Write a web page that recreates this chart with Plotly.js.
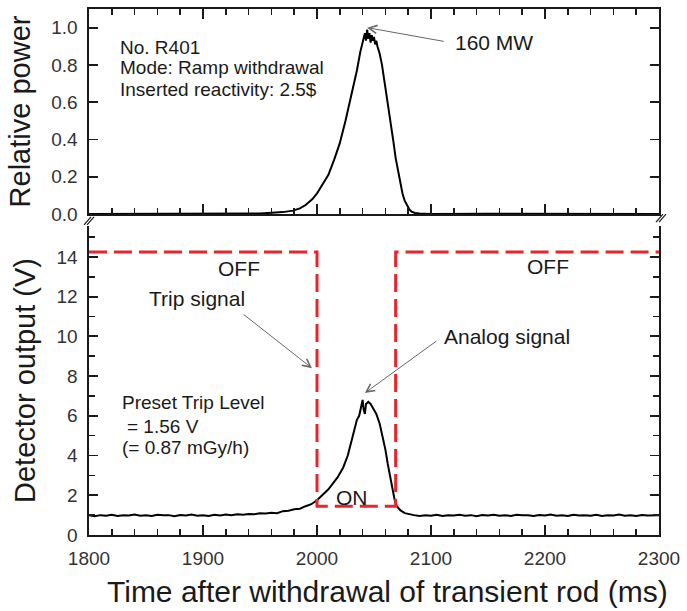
<!DOCTYPE html>
<html>
<head>
<meta charset="utf-8">
<script src="https://cdn.plot.ly/plotly-3.0.1.min.js"></script>
<style>html,body{margin:0;padding:0;background:#fff;}#chart{width:687px;height:611px;}</style>
</head>
<body>
<div id="chart"></div>
<script>
// ---- Data ----
const powerTime = [1800,1850,1900,1930,1950,1960,1970,1979,1985,1990,1996,2000,2005,2010,2015,2020,2025,2030,2033,2035,2038,2040,2041,2042,2043,2044,2045,2046,2047,2048,2049,2050,2051,2052,2053,2055,2057,2059,2061,2063,2065,2067,2069,2071,2073,2075,2077,2079,2081,2083,2086,2090,2100,2150,2200,2250,2300];
const relPower  = [0,0,0,0.001,0.003,0.006,0.01,0.018,0.03,0.048,0.08,0.11,0.16,0.21,0.29,0.38,0.5,0.63,0.71,0.77,0.87,0.92,0.95,0.97,0.93,0.99,0.94,0.97,0.92,0.96,0.93,0.95,0.91,0.93,0.9,0.86,0.8,0.72,0.65,0.56,0.47,0.39,0.3,0.23,0.17,0.11,0.07,0.045,0.025,0.012,0.005,0.002,0,0.001,0,0,0];

const analogTime = [1800,1805,1810,1815,1820,1825,1830,1835,1840,1845,1850,1855,1860,1865,1870,1875,1880,1885,1890,1895,1900,1905,1910,1915,1920,1925,1930,1935,1940,1945,1950,1955,1960,1965,1970,1975,1980,1985,1990,1995,2000,2005,2010,2014,2018,2023,2027,2031,2033,2035,2037,2039,2040,2041,2042,2043,2045,2047,2049,2052,2055,2058,2060,2062,2064,2066,2068,2070,2073,2077,2080,2085,2090,2095,2100,2105,2110,2115,2120,2125,2130,2135,2140,2145,2150,2155,2160,2165,2170,2175,2180,2185,2190,2195,2200,2205,2210,2215,2220,2225,2230,2235,2240,2245,2250,2255,2260,2265,2270,2275,2280,2285,2290,2295,2300];
const analogV   = [1.0,0.95,1.0,0.97,1.02,0.96,1.0,0.98,1.03,0.97,1.0,0.96,1.02,0.99,1.0,0.95,1.01,0.98,1.03,0.97,1.0,0.96,1.02,0.98,1.03,1.0,1.04,1.02,1.06,1.05,1.09,1.08,1.12,1.1,1.2,1.22,1.3,1.32,1.45,1.55,1.75,2.0,2.3,2.6,2.9,3.4,4.0,4.9,5.3,5.8,6.0,6.5,6.8,6.3,6.1,6.6,6.7,6.6,6.4,6.1,5.6,4.9,4.3,3.6,3.0,2.4,1.8,1.45,1.25,1.1,1.05,1.0,0.96,1.0,0.97,1.02,0.96,1.0,0.98,1.02,0.97,1.0,0.95,1.01,0.98,1.02,0.97,1.0,0.96,1.02,0.99,1.0,0.96,1.01,0.98,1.03,0.97,1.0,0.96,1.02,0.98,1.0,0.97,1.02,0.96,1.0,0.98,1.03,0.97,1.0,0.96,1.01,0.98,1.0,0.99];

const tripTime  = [1800,2000,2000,2069,2069,2300];
const tripLevel = [14.25,14.25,1.45,1.45,14.25,14.25];

const xTicks = [1800,1900,2000,2100,2200,2300];

// ---- Plot ----
const FONT = 'Liberation Sans, Arial, sans-serif';
const INK = '#1a1a1a';

const traces = [
  {x: powerTime, y: relPower, xaxis:'x2', yaxis:'y2', mode:'lines',
   line:{color:'#000', width:2}, hoverinfo:'skip'},
  {x: analogTime, y: analogV, xaxis:'x', yaxis:'y', mode:'lines',
   line:{color:'#000', width:2}, hoverinfo:'skip'},
  {x: tripTime, y: tripLevel, xaxis:'x', yaxis:'y', mode:'lines',
   line:{color:'#e8262a', width:3, dash:'18px,7px'}, hoverinfo:'skip'}
];

const axCommon = {
  showline:true, linecolor:INK, linewidth:1.6, showgrid:false, zeroline:false,
  ticks:'inside', tickcolor:INK, tickwidth:1.8,
  tickfont:{family:FONT, size:19, color:'#333'}
};
const minorX = {dtick:20, tick0:1800, ticks:'inside', ticklen:6, tickcolor:INK, tickwidth:1.6};

const layout = {
  width:687, height:611,
  margin:{l:89, r:28, t:9, b:76},
  paper_bgcolor:'#fff', plot_bgcolor:'#fff',
  showlegend:false,
  font:{family:FONT, size:19, color:INK},
  xaxis: Object.assign({}, axCommon, {
    domain:[0,1], range:[1800,2300], anchor:'y',
    tickmode:'array', tickvals:xTicks, ticktext:xTicks.map(String), ticklen:10,
    minor:minorX, mirror:false, ticklabelstandoff:6
  }),
  yaxis: Object.assign({}, axCommon, {
    domain:[0,0.5875], range:[0,15.56], anchor:'x',
    dtick:2, tick0:0, ticklen:9, mirror:'ticks', ticklabelstandoff:6,
    minor:{dtick:1, ticks:'inside', ticklen:6, tickcolor:INK, tickwidth:1.6},
    title:{text:'Detector output (V)', font:{family:FONT, size:29, color:INK}, standoff:12}
  }),
  xaxis2: Object.assign({}, axCommon, {
    domain:[0,1], range:[1800,2300], anchor:'y2',
    tickmode:'array', tickvals:xTicks, ticklen:10, showticklabels:false,
    minor:minorX, mirror:'ticks'
  }),
  yaxis2: Object.assign({}, axCommon, {
    domain:[0.6103,1], range:[0,1.1], anchor:'x2',
    dtick:0.2, tick0:0, tickformat:'.1f', ticklen:9, mirror:'ticks', ticklabelstandoff:6,
    title:{text:'Relative power', font:{family:FONT, size:29, color:INK}, standoff:12}
  }),
  shapes: [
    // axis-break marks
    {type:'line', xref:'paper', yref:'paper', xsizemode:'pixel', ysizemode:'pixel', xanchor:0, yanchor:0.5989, x0:-5, y0:-5, x1:2, y1:3, line:{color:INK, width:1.2}},
    {type:'line', xref:'paper', yref:'paper', xsizemode:'pixel', ysizemode:'pixel', xanchor:0, yanchor:0.5989, x0:-2, y0:-5, x1:5, y1:3, line:{color:INK, width:1.2}},
    {type:'line', xref:'paper', yref:'paper', xsizemode:'pixel', ysizemode:'pixel', xanchor:1, yanchor:0.6045, x0:-3, y0:-5, x1:4, y1:3, line:{color:INK, width:1.2}},
    {type:'line', xref:'paper', yref:'paper', xsizemode:'pixel', ysizemode:'pixel', xanchor:1, yanchor:0.6045, x0:0, y0:-5, x1:7, y1:3, line:{color:INK, width:1.2}}
  ],
  annotations: [
    // x-axis title (placed slightly right of centre, as in the reference)
    {xref:'paper', yref:'paper', x:0.523, y:-0.108, text:'Time after withdrawal of transient rod (ms)', showarrow:false, xanchor:'center', yanchor:'middle', font:{size:30, color:INK}},

    {xref:'x2', yref:'y2', x:1825.4, y:0.896, text:'No. R401', showarrow:false, xanchor:'left', yanchor:'middle', font:{size:19}},
    {xref:'x2', yref:'y2', x:1825.4, y:0.784, text:'Mode: Ramp withdrawal', showarrow:false, xanchor:'left', yanchor:'middle', font:{size:19}},
    {xref:'x2', yref:'y2', x:1825.4, y:0.666, text:'Inserted reactivity: 2.5$', showarrow:false, xanchor:'left', yanchor:'middle', font:{size:19}},
    {xref:'x2', yref:'y2', x:2155, y:0.918, text:'160 MW', showarrow:false, xanchor:'center', yanchor:'middle', font:{size:21}},
    {xref:'x2', yref:'y2', x:2044, y:1.0, text:'', showarrow:true, ax:78, ay:14, arrowhead:5, arrowsize:1.6, arrowwidth:1, arrowcolor:'#666'},

    {xref:'x', yref:'y', x:1931.6, y:13.44, text:'OFF', showarrow:false, font:{size:21}},
    {xref:'x', yref:'y', x:2202.6, y:13.5, text:'OFF', showarrow:false, font:{size:21}},
    {xref:'x', yref:'y', x:1894.7, y:11.93, text:'Trip signal', showarrow:false, font:{size:21}},
    {xref:'x', yref:'y', x:1995.6, y:8.4, text:'', showarrow:true, ax:-70, ay:-55, arrowhead:5, arrowsize:1.6, arrowwidth:1, arrowcolor:'#666'},
    {xref:'x', yref:'y', x:2166.7, y:9.97, text:'Analog signal', showarrow:false, font:{size:21}},
    {xref:'x', yref:'y', x:2042, y:7.15, text:'', showarrow:true, ax:73, ay:-53, arrowhead:5, arrowsize:1.6, arrowwidth:1, arrowcolor:'#666'},
    {xref:'x', yref:'y', x:1827.2, y:6.65, text:'Preset Trip Level', showarrow:false, xanchor:'left', font:{size:19}},
    {xref:'x', yref:'y', x:1831.6, y:5.44, text:'= 1.56 V', showarrow:false, xanchor:'left', font:{size:19}},
    {xref:'x', yref:'y', x:1827.2, y:4.43, text:'(= 0.87 mGy/h)', showarrow:false, xanchor:'left', font:{size:19}},
    {xref:'x', yref:'y', x:2030.7, y:1.91, text:'ON', showarrow:false, font:{size:21}}
  ]
};

Plotly.newPlot('chart', traces, layout, {staticPlot:true, displayModeBar:false});
</script>
</body>
</html>
